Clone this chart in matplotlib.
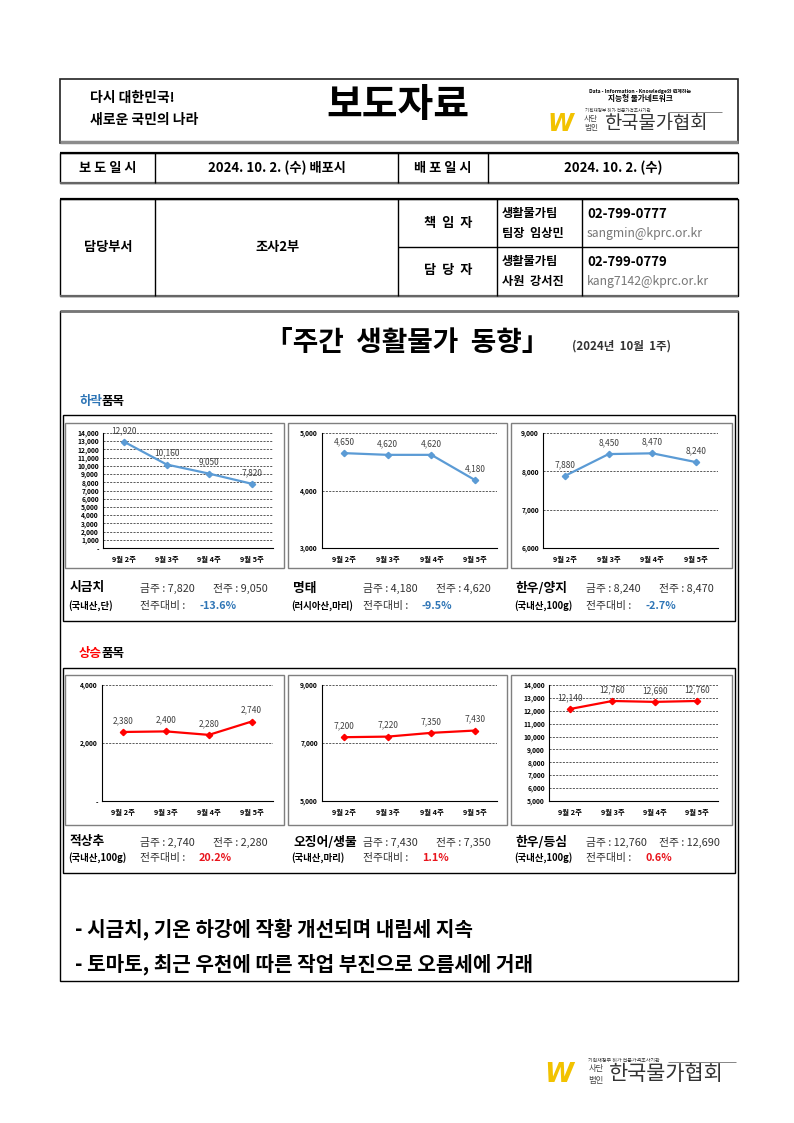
import matplotlib
matplotlib.use('Agg')
import matplotlib.pyplot as plt
from matplotlib.patches import Rectangle
from matplotlib.ticker import FuncFormatter

plt.rcParams['font.family'] = ['Noto Sans CJK KR', 'DejaVu Sans']

W, H = 794, 1123

# ---- data ----------------------------------------------------------------
weeks = ['9월 2주', '9월 3주', '9월 4주', '9월 5주']

down_names = ['시금치', '명태', '한우/양지']
down_units = ['(국내산,단)', '(러시아산,마리)', '(국내산,100g)']
down_values = [
    [12920, 10160, 9050, 7820],
    [4650, 4620, 4620, 4180],
    [7880, 8450, 8470, 8240],
]
down_yrange = [(0, 14000, 1000), (3000, 5000, 1000), (6000, 9000, 1000)]

up_names = ['적상추', '오징어/생물', '한우/등심']
up_units = ['(국내산,100g)', '(국내산,마리)', '(국내산,100g)']
up_values = [
    [2380, 2400, 2280, 2740],
    [7200, 7220, 7350, 7430],
    [12140, 12760, 12690, 12760],
]
up_yrange = [(0, 4000, 2000), (5000, 9000, 2000), (5000, 14000, 1000)]

summary = ['- 시금치, 기온 하강에 작황 개선되며 내림세 지속',
           '- 토마토, 최근 우천에 따른 작업 부진으로 오름세에 거래']

BLUE_LINE = '#5B9BD5'
BLUE_TXT = '#2E75B6'
RED = '#FF0000'
DARK = '#404040'

fig = plt.figure(figsize=(W / 100, H / 100), dpi=100)
fig.patch.set_facecolor('white')

# overlay axes in pixel coords (y downwards)
ov = fig.add_axes([0, 0, 1, 1])
ov.set_xlim(0, W)
ov.set_ylim(H, 0)
ov.axis('off')


def box(x0, y0, x1, y1, lw=1.0, color='black', z=1):
    ov.add_patch(Rectangle((x0, y0), x1 - x0, y1 - y0, fill=False,
                           lw=lw, edgecolor=color, zorder=z))


def hline(y, x0, x1, lw=1.0, color='black'):
    ov.plot([x0, x1], [y, y], color=color, lw=lw, solid_capstyle='butt')


def vline(x, y0, y1, lw=1.0, color='black'):
    ov.plot([x, x], [y0, y1], color=color, lw=lw, solid_capstyle='butt')


def txt(x, y, s, size, ha='left', va='center', weight='normal', color='black', **kw):
    ov.text(x, y, s, fontsize=size, ha=ha, va=va, fontweight=weight, color=color, **kw)


# ---- header --------------------------------------------------------------
box(60, 79, 738, 143, lw=1.2, color='#222222')
hline(142, 60, 738, lw=2.5, color='#8c8c8c')
txt(90, 98, '다시 대한민국!', 10, weight='bold')
txt(90, 120, '새로운 국민의 나라', 10, weight='bold')
txt(398, 106, '보도자료', 28, ha='center', weight='bold')
txt(640, 91, 'Data - Information - Knowledge와 연계하는', 3.6, ha='center', weight='bold')
txt(640, 99, '지능형 물가네트워크', 5.5, ha='center', weight='bold')
txt(585, 110, '기획재정부 허가 전문가격조사기관', 3.3, color='#333333')
hline(112, 668, 722, lw=0.5, color='#555555')
txt(560, 124, 'W', 17, ha='center', weight='bold', color='#F2C200',
    family='DejaVu Sans', style='italic')
txt(591, 119, '사단', 5.5, ha='center', color='#444444')
txt(591, 128, '법인', 5.5, ha='center', color='#444444')
txt(604, 123, '한국물가협회', 13.5, color='#333333')

# ---- table 1 ---------------------------------------------------------------
box(60, 153, 738, 183, lw=1.0)
hline(153, 60, 738, lw=1.6)
hline(183, 60, 738, lw=1.6, color='#666666')
for x in (155, 398, 488):
    vline(x, 153, 183)
txt(108, 168, '보 도 일 시', 9.5, ha='center', weight='bold')
txt(277, 168, '2024. 10. 2. (수) 배포시', 9.5, ha='center', weight='bold')
txt(443, 168, '배 포 일 시', 9.5, ha='center', weight='bold')
txt(613, 168, '2024. 10. 2. (수)', 9.5, ha='center', weight='bold')

# ---- table 2 ---------------------------------------------------------------
box(60, 199, 738, 296, lw=1.0)
hline(199, 60, 738, lw=1.6)
hline(296, 60, 738, lw=1.6, color='#666666')
for x in (155, 398, 497, 582):
    vline(x, 199, 296)
hline(247, 398, 738)
txt(108, 247, '담당부서', 9.5, ha='center', weight='bold')
txt(277, 247, '조사2부', 9.5, ha='center', weight='bold')
txt(448, 223, '책  임  자', 9.5, ha='center', weight='bold')
txt(448, 270, '담  당  자', 9.5, ha='center', weight='bold')
txt(502, 214, '생활물가팀', 8.8, weight='bold')
txt(502, 233, '팀장  임상민', 8.8, weight='bold')
txt(502, 262, '생활물가팀', 8.8, weight='bold')
txt(502, 281, '사원  강서진', 8.8, weight='bold')
txt(587, 214, '02-799-0777', 9.5, weight='bold')
txt(587, 233, 'sangmin@kprc.or.kr', 8.8, color='#777777')
txt(587, 262, '02-799-0779', 9.5, weight='bold')
txt(587, 281, 'kang7142@kprc.or.kr', 8.8, color='#777777')

# ---- main box ----------------------------------------------------------------
box(60, 311, 738, 981, lw=1.0)
hline(311, 60, 738, lw=2.0, color='#777777')
txt(407, 343, '「주간  생활물가  동향」', 20, ha='center', weight='bold')
txt(622, 346, '(2024년  10월  1주)', 8.3, ha='center', weight='bold', color='#333333')

txt(79, 401, '하락', 9, weight='bold', color=BLUE_TXT)
txt(102, 401, '품목', 9, weight='bold')
txt(79, 654, '상승', 9, weight='bold', color=RED)
txt(102, 654, '품목', 9, weight='bold')

box(63, 415, 735, 621, lw=1.0)
box(63, 668, 735, 873, lw=1.0)

for i, line in enumerate(summary):
    txt(75, 929 + i * 35, line, 14.5, weight='bold')

# ---- footer logo -------------------------------------------------------------
txt(588, 1060, '기획재정부 허가 전문가격조사기관', 3.6, color='#333333')
hline(1062, 668, 736, lw=0.5, color='#555555')
txt(559, 1075, 'W', 19, ha='center', weight='bold', color='#F2C200',
    family='DejaVu Sans', style='italic')
txt(596, 1069, '사단', 6, ha='center', color='#444444')
txt(596, 1080, '법인', 6, ha='center', color='#444444')
txt(609, 1074, '한국물가협회', 15, color='#333333')


# ---- charts ---------------------------------------------------------------
def px_axes(x0, y0, x1, y1):
    return fig.add_axes([x0 / W, 1 - y1 / H, (x1 - x0) / W, (y1 - y0) / H])


def yfmt(v, pos):
    return '-' if v == 0 else f'{int(round(v)):,}'


def draw_chart(rect, values, yrange, color):
    ax = px_axes(*rect)
    lo, hi, step = yrange
    xs = [i + 0.5 for i in range(len(values))]
    ax.plot(xs, values, color=color, lw=1.6, marker='D', ms=3.2, zorder=3)
    for x, v in zip(xs, values):
        ax.annotate(f'{v:,}', (x, v), xytext=(0, 5), textcoords='offset points',
                    ha='center', va='bottom', fontsize=6, color=DARK)
    ax.set_xlim(0, len(values))
    ax.set_ylim(lo, hi)
    ax.set_yticks(list(range(lo, hi + 1, step)))
    ax.yaxis.set_major_formatter(FuncFormatter(yfmt))
    ax.set_xticks(xs)
    ax.set_xticklabels(weeks)
    ax.tick_params(axis='x', length=0, pad=6, labelsize=5.3)
    ax.tick_params(axis='y', length=0, pad=3, labelsize=4.8)
    for lab in ax.get_xticklabels() + ax.get_yticklabels():
        lab.set_fontweight('bold')
    ax.yaxis.grid(True, linestyle=(0, (2.5, 1.5)), color=DARK, lw=0.6)
    ax.set_axisbelow(True)
    for s in ('top', 'right'):
        ax.spines[s].set_visible(False)
    for s in ('left', 'bottom'):
        ax.spines[s].set_color('black')
        ax.spines[s].set_linewidth(0.8)
    return ax


def draw_row(names, units, values, yranges, color, chg_color,
             ptop, pbot, plot_x, plot_y, cap_y):
    panel_x = [(65, 284), (288, 507), (511, 732)]
    for k in range(3):
        x0, x1 = panel_x[k]
        box(x0, ptop, x1, pbot, lw=1.0, color='#7f7f7f')
        px0, px1 = plot_x[k]
        draw_chart((px0, plot_y[0], px1, plot_y[1]), values[k], yranges[k], color)
        cur, prev = values[k][-1], values[k][-2]
        chg = (cur - prev) / prev * 100
        txt(x0 + 5, cap_y[0], names[k], 9.2, weight='bold')
        txt(x0 + 3, cap_y[1], units[k], 6.8, weight='bold')
        txt(x0 + 75, cap_y[0], f'금주 : {cur:,}', 7.8, color='#333333')
        txt(x0 + 148, cap_y[0], f'전주 : {prev:,}', 7.8, color='#333333')
        txt(x0 + 75, cap_y[1], '전주대비 : ', 7.8, color='#333333')
        txt(x0 + 134, cap_y[1], f'{chg:.1f}%', 7.8, weight='bold', color=chg_color)


draw_row(down_names, down_units, down_values, down_yrange, BLUE_LINE, BLUE_TXT,
         423, 568, [(103, 273), (322, 497), (543, 718)], (433, 548), (588, 606))
draw_row(up_names, up_units, up_values, up_yrange, RED, '#E8141C',
         675, 825, [(102, 273), (322, 497), (549, 718)], (685, 801), (842, 858))

fig.savefig('out.png', dpi=100, facecolor='white')
